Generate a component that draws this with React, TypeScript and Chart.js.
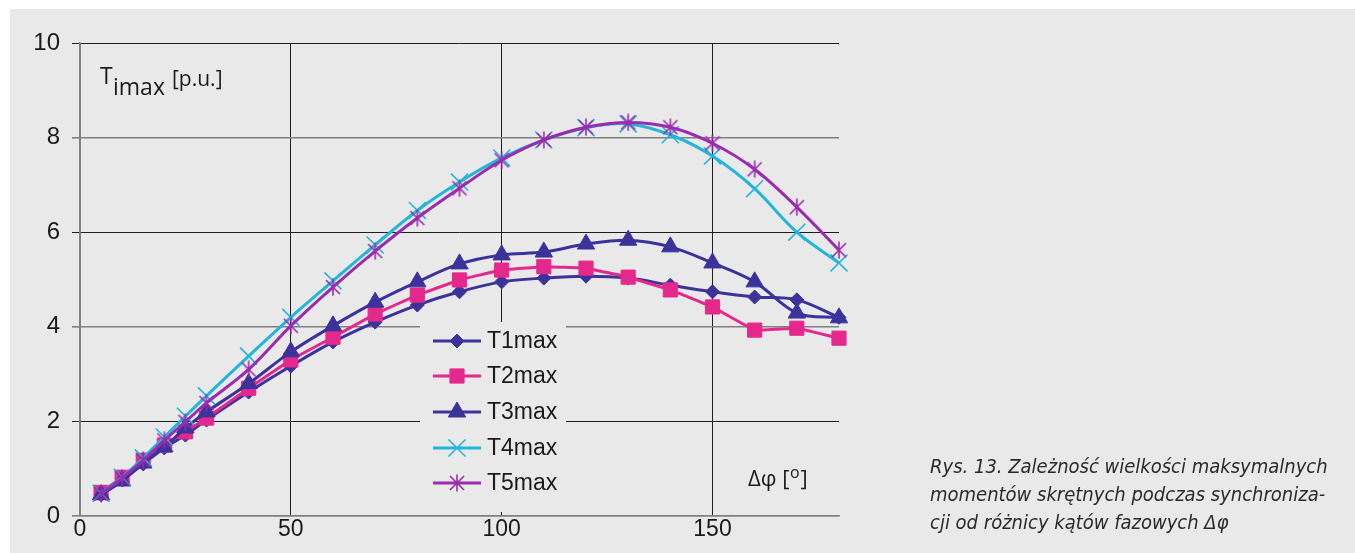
import React, { useEffect, useRef } from 'react';
import { Chart, registerables } from 'chart.js';
import { drawPoint } from 'chart.js/helpers';

Chart.register(...registerables);

// ---- data ----
const angles = [5, 10, 15, 20, 25, 30, 40, 50, 60, 70, 80, 90, 100, 110, 120, 130, 140, 150, 160, 170, 180];
const t1max = [0.45, 0.76, 1.1, 1.44, 1.71, 2.03, 2.62, 3.17, 3.68, 4.1, 4.46, 4.74, 4.95, 5.03, 5.07, 5.03, 4.88, 4.74, 4.63, 4.57, 4.2];
const t2max = [0.5, 0.82, 1.18, 1.5, 1.78, 2.07, 2.7, 3.3, 3.78, 4.27, 4.67, 4.99, 5.2, 5.27, 5.24, 5.05, 4.78, 4.42, 3.93, 3.97, 3.76];
const t3max = [0.45, 0.74, 1.12, 1.46, 1.86, 2.2, 2.8, 3.47, 4.02, 4.52, 4.95, 5.33, 5.52, 5.58, 5.75, 5.83, 5.69, 5.35, 4.95, 4.29, 4.19];
const t4max = [0.48, 0.82, 1.23, 1.67, 2.11, 2.54, 3.38, 4.2, 4.97, 5.73, 6.46, 7.06, 7.57, 7.95, 8.21, 8.29, 8.06, 7.61, 6.92, 6.0, 5.35];
const t5max = [0.47, 0.8, 1.18, 1.6, 1.99, 2.39, 3.1, 4.02, 4.84, 5.6, 6.3, 6.93, 7.52, 7.95, 8.22, 8.32, 8.22, 7.88, 7.33, 6.53, 5.62];
const seriesNames = ['T1max', 'T2max', 'T3max', 'T4max', 'T5max'];
const xTickValues = [0, 50, 100, 150];
const yTickValues = [0, 2, 4, 6, 8, 10];

const BG = '#e9e9e9';
const C_BLUE = '#3c329c';
const C_PINK = '#e5288c';
const C_CYAN = '#22b6da';
const C_PURPLE = '#9a2cae';
const DARK = '#1e1e1e';
const GRAY = '#808080';

function makeAsterisk(color: string): HTMLCanvasElement {
  const c = document.createElement('canvas');
  c.width = 18;
  c.height = 18;
  const g = c.getContext('2d')!;
  g.strokeStyle = color;
  g.lineWidth = 1.6;
  g.beginPath();
  g.moveTo(2, 2); g.lineTo(16, 16);
  g.moveTo(16, 2); g.lineTo(2, 16);
  g.moveTo(9, 0.5); g.lineTo(9, 17.5);
  g.stroke();
  return c;
}

const toPoints = (ys: number[]) => angles.map((x, i) => ({ x, y: ys[i] }));

export default function App() {
  const ref = useRef<HTMLCanvasElement | null>(null);

  useEffect(() => {
    const canvas = ref.current;
    if (!canvas) return;
    const asterisk = makeAsterisk(C_PURPLE);

    const styles: any[] = [
      { color: C_BLUE, pointStyle: 'rectRot', radius: 7, tension: 0.35, bw: 1 },
      { color: C_PINK, pointStyle: 'rect', radius: 10, tension: 0.05, bw: 1 },
      { color: C_BLUE, pointStyle: 'triangle', radius: 10, tension: 0.35, bw: 1 },
      { color: C_CYAN, pointStyle: 'crossRot', radius: 12, tension: 0.35, bw: 1.6 },
      { color: C_PURPLE, pointStyle: asterisk, radius: 9, tension: 0.35, bw: 1.6 },
    ];
    const seriesData = [t1max, t2max, t3max, t4max, t5max];

    const datasets = seriesData.map((ys, i) => ({
      label: seriesNames[i],
      data: toPoints(ys),
      borderColor: styles[i].color,
      backgroundColor: styles[i].color,
      borderWidth: 3,
      pointStyle: styles[i].pointStyle,
      pointRadius: styles[i].radius,
      pointBorderWidth: styles[i].bw,
      pointBackgroundColor: styles[i].color,
      pointBorderColor: styles[i].color,
      tension: styles[i].tension,
      order: 5 - i,
      clip: false as any,
    }));

    const rowsY = [332, 367, 403, 439, 474];

    const overlay = {
      id: 'overlay',
      afterDatasetsDraw(chart: any) {
        const ctx = chart.ctx as CanvasRenderingContext2D;
        ctx.save();
        // legend box
        ctx.fillStyle = BG;
        ctx.fillRect(410, 313, 146, 190);
        chart.data.datasets.forEach((ds: any, i: number) => {
          const y = rowsY[i];
          ctx.strokeStyle = ds.borderColor;
          ctx.lineWidth = 3;
          ctx.beginPath();
          ctx.moveTo(423, y);
          ctx.lineTo(471, y);
          ctx.stroke();
          ctx.fillStyle = ds.borderColor;
          ctx.strokeStyle = ds.borderColor;
          ctx.lineWidth = ds.pointBorderWidth;
          drawPoint(ctx, {
            pointStyle: ds.pointStyle,
            radius: ds.pointRadius,
            borderWidth: ds.pointBorderWidth,
            rotation: 0,
          } as any, 447, y);
          ctx.fillStyle = '#1a1a1a';
          ctx.font = '23px "Liberation Sans", Arial, sans-serif';
          ctx.textAlign = 'left';
          ctx.textBaseline = 'middle';
          ctx.fillText(ds.label, 477, y + 1);
        });

        // y-axis title
        ctx.fillStyle = '#1a1a1a';
        ctx.textAlign = 'left';
        ctx.textBaseline = 'alphabetic';
        ctx.font = '23px "Open Sans", sans-serif';
        ctx.fillText('T', 90, 75);
        ctx.fillText('imax', 103, 86);
        ctx.font = '21px "Open Sans", sans-serif';
        ctx.fillText('[p.u.]', 162, 77);

        // x-axis title
        ctx.font = '22px "Open Sans", sans-serif';
        const a = 'Δφ [';
        ctx.fillText(a, 738, 477);
        let x = 738 + ctx.measureText(a).width;
        ctx.font = '16px "Open Sans", sans-serif';
        ctx.fillText('o', x + 0.5, 469);
        x += ctx.measureText('o').width + 1.5;
        ctx.font = '22px "Open Sans", sans-serif';
        ctx.fillText(']', x, 477);
        ctx.restore();
      },
    };

    const chart = new Chart(canvas, {
      type: 'line',
      data: { datasets },
      options: {
        animation: false,
        responsive: false,
        maintainAspectRatio: false,
        layout: { padding: { left: 0, top: 34, right: 516, bottom: 0 } },
        plugins: {
          legend: { display: false },
          tooltip: { enabled: false },
        },
        scales: {
          x: {
            type: 'linear',
            min: 0,
            max: 180,
            afterBuildTicks: (s: any) => {
              s.ticks = xTickValues.map((v) => ({ value: v }));
            },
            afterFit: (s: any) => {
              s.height = 37;
            },
            ticks: {
              padding: 0,
              color: '#1a1a1a',
              font: { family: '"Liberation Sans", Arial, sans-serif', size: 23 },
              maxRotation: 0,
            },
            grid: {
              drawTicks: false,
              color: (c: any) => (c.tick && c.tick.value === 0 ? GRAY : DARK),
              lineWidth: 1,
            },
            border: { display: true, color: GRAY, width: 1.5 },
          },
          y: {
            type: 'linear',
            min: 0,
            max: 10,
            afterBuildTicks: (s: any) => {
              s.ticks = yTickValues.map((v) => ({ value: v }));
            },
            afterFit: (s: any) => {
              s.width = 70;
            },
            ticks: {
              padding: 12,
              color: '#1a1a1a',
              font: { family: '"Liberation Sans", Arial, sans-serif', size: 24 },
            },
            grid: {
              drawTicks: true,
              tickLength: 8,
              color: (c: any) => {
                const v = c.tick ? c.tick.value : 0;
                return v === 10 || v === 6 || v === 2 ? DARK : GRAY;
              },
              lineWidth: (c: any) => {
                const v = c.tick ? c.tick.value : 0;
                return v === 10 || v === 6 || v === 2 ? 1 : 1.6;
              },
            },
            border: { display: true, color: GRAY, width: 1.5 },
          },
        },
      },
      plugins: [overlay],
    });

    return () => chart.destroy();
  }, []);

  return (
    <div
      style={{
        position: 'absolute',
        left: 10,
        top: 9,
        width: 1345,
        height: 544,
        background: BG,
        overflow: 'hidden',
      }}
    >
      <canvas ref={ref} width={1345} height={544} style={{ display: 'block', width: 1345, height: 544 }} />
      <div
        style={{
          position: 'absolute',
          left: 920,
          top: 443,
          fontFamily: '"Liberation Sans Narrow", "DejaVu Sans Condensed", sans-serif',
          fontStyle: 'italic',
          fontSize: 20,
          lineHeight: '28px',
          color: '#2a2a2a',
          whiteSpace: 'pre',
        }}
      >
        {'Rys. 13. Zależność wielkości maksymalnych\nmomentów skrętnych podczas synchroniza-\ncji od różnicy kątów fazowych '}
        <span style={{ fontStyle: 'italic' }}>Δφ</span>
      </div>
    </div>
  );
}
